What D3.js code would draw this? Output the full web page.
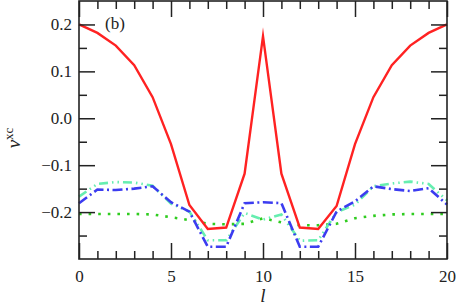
<!DOCTYPE html>
<html>
<head>
<meta charset="utf-8">
<script src="https://cdn.jsdelivr.net/npm/d3@7"></script>
<style>
body { margin: 0; background: #fff; }
svg text { font-family: "Liberation Serif", "DejaVu Serif", "Times New Roman", serif; }
</style>
</head>
<body>
<div id="chart"></div>
<script>
// site index l = 0..20
var sites = d3.range(0, 21);

var exact = [0.200, 0.182, 0.155, 0.113, 0.045, -0.055, -0.185, -0.236, -0.233, -0.118, 0.175,
             -0.118, -0.233, -0.236, -0.187, -0.055, 0.045, 0.113, 0.155, 0.182, 0.200];
var approxA = [-0.167, -0.140, -0.136, -0.137, -0.144, -0.182, -0.199, -0.260, -0.260, -0.202, -0.216,
               -0.205, -0.261, -0.260, -0.200, -0.184, -0.145, -0.139, -0.135, -0.140, -0.175];
var approxB = [-0.181, -0.152, -0.153, -0.150, -0.145, -0.179, -0.199, -0.274, -0.274, -0.181, -0.179,
               -0.181, -0.274, -0.274, -0.199, -0.177, -0.145, -0.151, -0.155, -0.149, -0.184];
var approxC = [-0.204, -0.204, -0.204, -0.204, -0.205, -0.211, -0.217, -0.225, -0.226, -0.225, -0.213,
               -0.222, -0.228, -0.228, -0.225, -0.213, -0.208, -0.205, -0.204, -0.204, -0.204];

var xTicks = [0, 5, 10, 15, 20];
var yTicks = [-0.2, -0.1, 0.0, 0.1, 0.2];
var yMinor = [-0.25, -0.15, -0.05, 0.05, 0.15];

var w = 457, h = 306;
var margin = {left: 79, right: 10, top: 1, bottom: 47};
var serif = '"Liberation Serif", "DejaVu Serif", serif';

var svg = d3.select("#chart").append("svg")
    .attr("width", w)
    .attr("height", h);

var xScale = d3.scaleLinear().domain([0, 20]).range([margin.left, w - margin.right]);
var yScale = d3.scaleLinear().domain([-0.3, 0.25]).range([h - margin.bottom, margin.top]);

var series = [
    {vals: approxC, color: "#2fcc1f", dash: "2.6,7", width: 2.6},
    {vals: approxA, color: "#66eeb0", dash: "9,4,1.5,4,1.5,4", width: 2.6},
    {vals: approxB, color: "#3c3cf0", dash: "10,3.5,2,3.5", width: 2.6},
    {vals: exact, color: "#ff2222", dash: null, width: 2.4}
];

var line = d3.line()
    .x((d, i) => xScale(sites[i]))
    .y(d => yScale(d));

var plot = svg.append("g").attr("id", "plot");

series.forEach(s => {
    plot.append("path")
        .datum(s.vals)
        .attr("d", line)
        .attr("fill", "none")
        .attr("stroke", s.color)
        .attr("stroke-width", s.width)
        .attr("stroke-miterlimit", 10)
        .attr("stroke-dasharray", s.dash);
});

// axes: ticks inside on all four sides
var xLo = margin.left, xHi = w - margin.right;
var yLo = h - margin.bottom, yHi = margin.top;
var xMinor = sites.filter(d => d % 5);

var axBottom = d3.axisBottom(xScale).tickValues(xTicks).tickSize(-16).tickFormat(d3.format("d"));
var axBottomMinor = d3.axisBottom(xScale).tickValues(xMinor).tickSize(-8).tickFormat("");
var axTop = d3.axisTop(xScale).tickValues(xTicks).tickSize(-16).tickFormat("");
var axTopMinor = d3.axisTop(xScale).tickValues(xMinor).tickSize(-8).tickFormat("");

var axLeft = d3.axisLeft(yScale).tickValues(yTicks).tickSize(-16)
    .tickFormat(d => d3.format(".1f")(d).replace("-", "\u2212"));
var axLeftMinor = d3.axisLeft(yScale).tickValues(yMinor).tickSize(-8).tickFormat("");
var axRight = d3.axisRight(yScale).tickValues(yTicks).tickSize(-16).tickFormat("");
var axRightMinor = d3.axisRight(yScale).tickValues(yMinor).tickSize(-8).tickFormat("");

function styleAxis(g) {
    g.attr("font-family", serif);
    g.select(".domain").remove();
    g.selectAll("line").attr("stroke", "#222").attr("stroke-width", 1.5);
    g.selectAll("text").attr("fill", "#222").attr("font-size", 17).style("font-family", serif);
}

svg.append("g").attr("transform", `translate(0,${yLo})`).call(axBottom).call(styleAxis)
    .selectAll("text").attr("y", 8).attr("dy", "0.9em");
svg.append("g").attr("transform", `translate(0,${yLo})`).call(axBottomMinor).call(styleAxis);
svg.append("g").attr("transform", `translate(0,${yHi})`).call(axTop).call(styleAxis);
svg.append("g").attr("transform", `translate(0,${yHi})`).call(axTopMinor).call(styleAxis);
svg.append("g").attr("transform", `translate(${xLo},0)`).call(axLeft).call(styleAxis)
    .selectAll("text").attr("x", -7);
svg.append("g").attr("transform", `translate(${xLo},0)`).call(axLeftMinor).call(styleAxis);
svg.append("g").attr("transform", `translate(${xHi},0)`).call(axRight).call(styleAxis);
svg.append("g").attr("transform", `translate(${xHi},0)`).call(axRightMinor).call(styleAxis);

svg.append("rect")
    .attr("x", xLo).attr("y", yHi)
    .attr("width", xHi - xLo).attr("height", yLo - yHi)
    .attr("fill", "none").attr("stroke", "#222").attr("stroke-width", 1.6);

// labels
svg.append("text")
    .attr("x", (xLo + xHi) / 2).attr("y", 302)
    .attr("text-anchor", "middle").attr("font-size", 19).attr("font-style", "italic").attr("fill", "#222")
    .style("font-family", serif)
    .text("l");

var yl = svg.append("text")
    .attr("transform", "translate(20,138) rotate(-90)")
    .attr("text-anchor", "middle").attr("font-size", 19).attr("fill", "#222")
    .style("font-family", serif);
yl.append("tspan").attr("font-style", "italic").text("v");
yl.append("tspan").attr("font-size", 13).attr("dy", -7).text("xc");

svg.append("text")
    .attr("x", 105).attr("y", 29)
    .attr("font-size", 17).attr("fill", "#222")
    .style("font-family", serif)
    .text("(b)");
</script>
</body>
</html>
